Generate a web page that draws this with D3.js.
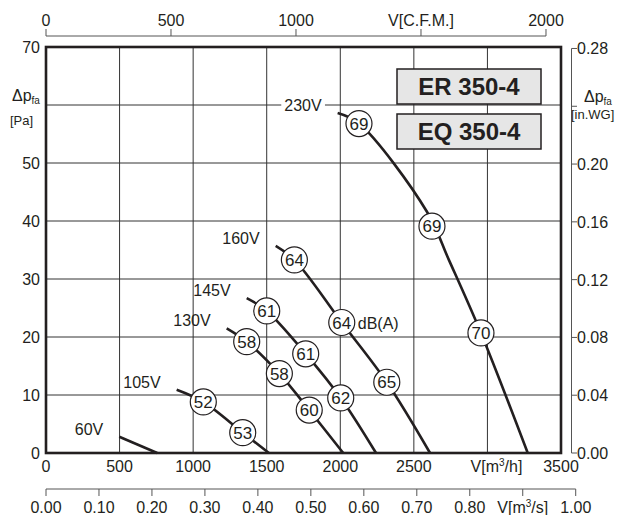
<!DOCTYPE html>
<html>
<head>
<meta charset='utf-8'>
<title>ER 350-4 fan curves</title>
<style>
	body {margin: 0; background: #fff}
	svg text {font-family: "Liberation Sans", Arial, sans-serif; fill: #231f20}
	.grid {stroke: #333; stroke-width: 1px}
	.curve {fill: none; stroke: #231f20; stroke-width: 2.6px}
</style>
</head>
<body>
<script src='https://cdn.jsdelivr.net/npm/d3@7/dist/d3.min.js'></script>
<script>

// ticks
var flowTicks = [0, 500, 1000, 1500, 2000, 2500, 3000, 3500];
var paTicks = [0, 10, 20, 30, 40, 50, 60, 70];
var inwgTicks = [0, 0.04, 0.08, 0.12, 0.16, 0.20, 0.24, 0.28];
var cfmTicks = [0, 500, 1000, 1500, 2000];
var m3sTicks = [0, 0.1, 0.2, 0.3, 0.4, 0.5, 0.6, 0.7, 0.8, 0.9, 1.0];

// curves [m3/h, Pa]
var voltages = ["230V", "160V", "145V", "130V", "105V", "60V"];
var curve230 = [[1982, 58.6], [2127, 56.8], [2589, 41.6], [2738, 33.3], [2956, 20.7], [3274, 0]];
var curve160 = [[1561, 35.7], [1688, 33.3], [2010, 22.5], [2316, 12.2], [2610, 0]];
var curve145 = [[1364, 26.7], [1500, 24.5], [1765, 17.1], [2003, 9.5], [2243, 0]];
var curve130 = [[1228, 21.5], [1364, 19.2], [1586, 13.7], [1789, 7.4], [2020, 0]];
var curve105 = [[888, 10.9], [1069, 8.8], [1337, 3.5], [1515, 0]];
var curve60 = [[498, 2.8], [756, 0]];

// sound level markers [m3/h, Pa, dB(A)]
var marks230 = [[2127, 56.8, 69], [2623, 39.1, 69], [2956, 20.7, 70]];
var marks160 = [[1688, 33.3, 64], [2010, 22.5, 64], [2316, 12.2, 65]];
var marks145 = [[1500, 24.5, 61], [1765, 17.1, 61], [2003, 9.5, 62]];
var marks130 = [[1364, 19.2, 58], [1586, 13.7, 58], [1789, 7.4, 60]];
var marks105 = [[1069, 8.8, 52], [1337, 3.5, 53]];

var models = ["ER 350-4", "EQ 350-4"];

var curves = [curve230, curve160, curve145, curve130, curve105, curve60];
var marks = [].concat(marks230, marks160, marks145, marks130, marks105);

var W = 621, H = 515;
var svg = d3.select('body').append('svg').attr('width', W).attr('height', H);

var x = d3.scaleLinear().domain([0, 3500]).range([46, 561]);
var y = d3.scaleLinear().domain([0, 70]).range([453, 47]);

// grid
svg.append('g').selectAll('line').data(flowTicks.slice(1, -1)).enter().append('line')
	.attr('class', 'grid')
	.attr('x1', function(d) {return x(d);}).attr('x2', function(d) {return x(d);})
	.attr('y1', y(0)).attr('y2', y(70));
svg.append('g').selectAll('line').data(paTicks.slice(1, -1)).enter().append('line')
	.attr('class', 'grid')
	.attr('y1', function(d) {return y(d);}).attr('y2', function(d) {return y(d);})
	.attr('x1', x(0)).attr('x2', x(3500));

// left labels
svg.append('g').selectAll('text').data(paTicks.filter(function(d) {return d != 60;})).enter().append('text')
	.attr('x', 40).attr('y', function(d) {return y(d) + 6;})
	.attr('text-anchor', 'end').attr('font-size', 16)
	.text(function(d) {return d;});

var lp = svg.append('text').attr('x', 12).attr('y', 101).attr('font-size', 16);
lp.append('tspan').text('\u0394p');
lp.append('tspan').attr('font-size', 10).attr('dy', 3).text('fa');
svg.append('text').attr('x', 10).attr('y', 125).attr('font-size', 13).text('[Pa]');

// right axis (in.WG)
var yw = function(v) {return y(v * 249.089);};
svg.append('line')
	.attr('x1', 571.5).attr('x2', 571.5).attr('y1', yw(0.28)).attr('y2', yw(0))
	.style('stroke', '#555');
svg.append('g').selectAll('line').data(inwgTicks).enter().append('line')
	.attr('x1', 571.5).attr('x2', 577)
	.attr('y1', function(d) {return yw(d);}).attr('y2', function(d) {return yw(d);})
	.style('stroke', '#555');
svg.append('g').selectAll('text').data(inwgTicks.filter(function(d) {return d != 0.24;})).enter().append('text')
	.attr('x', 577).attr('y', function(d) {return yw(d) + 6;})
	.attr('font-size', 16)
	.text(function(d) {return d3.format('.2f')(d);});
var rp = svg.append('text').attr('x', 584).attr('y', 102).attr('font-size', 16);
rp.append('tspan').text('\u0394p');
rp.append('tspan').attr('font-size', 10).attr('dy', 3).text('fa');
svg.append('text').attr('x', 571).attr('y', 119).attr('font-size', 13).text('[in.WG]');

// top axis (CFM)
var xc = function(v) {return x(v * 1.699);};
svg.append('line').attr('x1', xc(0)).attr('x2', xc(2000)).attr('y1', 36).attr('y2', 36).style('stroke', '#555');
svg.append('g').selectAll('line').data(cfmTicks).enter().append('line')
	.attr('x1', function(d) {return xc(d);}).attr('x2', function(d) {return xc(d);})
	.attr('y1', 29).attr('y2', 36).style('stroke', '#555');
svg.append('g').selectAll('text').data(cfmTicks).enter().append('text')
	.attr('x', function(d) {return xc(d);}).attr('y', 26)
	.attr('text-anchor', 'middle').attr('font-size', 16)
	.text(function(d) {return d == 1500 ? 'V[C.F.M.]' : d;});

// bottom m3/h labels
var bl = svg.append('g').selectAll('text').data(flowTicks).enter().append('text')
	.attr('x', function(d) {return d == 3000 ? x(d) + 9 : x(d);}).attr('y', 472)
	.attr('text-anchor', 'middle').attr('font-size', 16);
bl.each(function(d) {
	var t = d3.select(this);
	if (d == 3000) {
		t.append('tspan').text('V[m');
		t.append('tspan').attr('font-size', 10).attr('dy', -6).text('3');
		t.append('tspan').attr('dy', 6).text('/h]');
	} else t.text(d);
});

// bottom m3/s axis
var xs = function(v) {return x(v * 3600);};
svg.append('line').attr('x1', xs(0)).attr('x2', xs(1)).attr('y1', 489).attr('y2', 489).style('stroke', '#555');
svg.append('g').selectAll('line').data(m3sTicks).enter().append('line')
	.attr('x1', function(d) {return xs(d);}).attr('x2', function(d) {return xs(d);})
	.attr('y1', 489).attr('y2', 496).style('stroke', '#555');
var sl = svg.append('g').selectAll('text').data(m3sTicks).enter().append('text')
	.attr('x', function(d) {return xs(d);}).attr('y', 513)
	.attr('text-anchor', 'middle').attr('font-size', 16);
sl.each(function(d) {
	var t = d3.select(this);
	if (Math.abs(d - 0.9) < 1e-6) {
		t.append('tspan').text('V[m');
		t.append('tspan').attr('font-size', 10).attr('dy', -6).text('3');
		t.append('tspan').attr('dy', 6).text('/s]');
	} else t.text(d3.format('.2f')(d));
});

// model boxes
models.forEach(function(m, i) {
	var g = svg.append('g').attr('transform', 'translate(397,' + (69 + i * 45) + ')');
	g.append('rect').attr('width', 144).attr('height', 35)
		.attr('fill', '#e6e6e6').attr('stroke', '#231f20').attr('stroke-width', 1.5);
	g.append('text').attr('x', 72).attr('y', 26).attr('text-anchor', 'middle')
		.attr('font-size', 24).attr('font-weight', 'bold').text(m);
});

// curves
var line = d3.line()
	.x(function(d) {return x(d[0]);})
	.y(function(d) {return y(d[1]);})
	.curve(d3.curveCatmullRom.alpha(0.5));

svg.append('g').selectAll('path').data(curves).enter().append('path')
	.attr('class', 'curve').attr('d', line);

// voltage labels
var vg = svg.append('g');
curves.forEach(function(c, i) {
	var px = x(c[0][0]), py = y(c[0][1]);
	var t = vg.append('text').attr('x', px - 16).attr('y', py - 2)
		.attr('text-anchor', 'end').attr('font-size', 16).text(voltages[i]);
	if (i == 0) {
		var bb = t.node().getBBox();
		vg.insert('rect', function() {return t.node();})
			.attr('x', bb.x - 3).attr('y', bb.y + 2).attr('width', bb.width + 6)
			.attr('height', bb.height - 4).attr('fill', '#fff');
	}
});

// sound markers
var mk = svg.append('g').selectAll('g').data(marks).enter().append('g')
	.attr('transform', function(d) {return 'translate(' + x(d[0]) + ',' + y(d[1]) + ')';});
mk.append('circle').attr('r', 13).attr('fill', '#fff').attr('stroke', '#231f20').attr('stroke-width', 1.2);
mk.append('text').attr('text-anchor', 'middle').attr('y', 6).attr('font-size', 17)
	.text(function(d) {return d[2];});

svg.append('text').attr('x', x(2010) + 16).attr('y', y(22.5) + 6).attr('font-size', 16).text('dB(A)');

// frame
svg.append('rect').attr('x', x(0)).attr('y', y(70)).attr('width', x(3500) - x(0)).attr('height', y(0) - y(70))
	.attr('fill', 'none').attr('stroke', '#231f20').attr('stroke-width', 2.6);

</script>
</body>
</html>
